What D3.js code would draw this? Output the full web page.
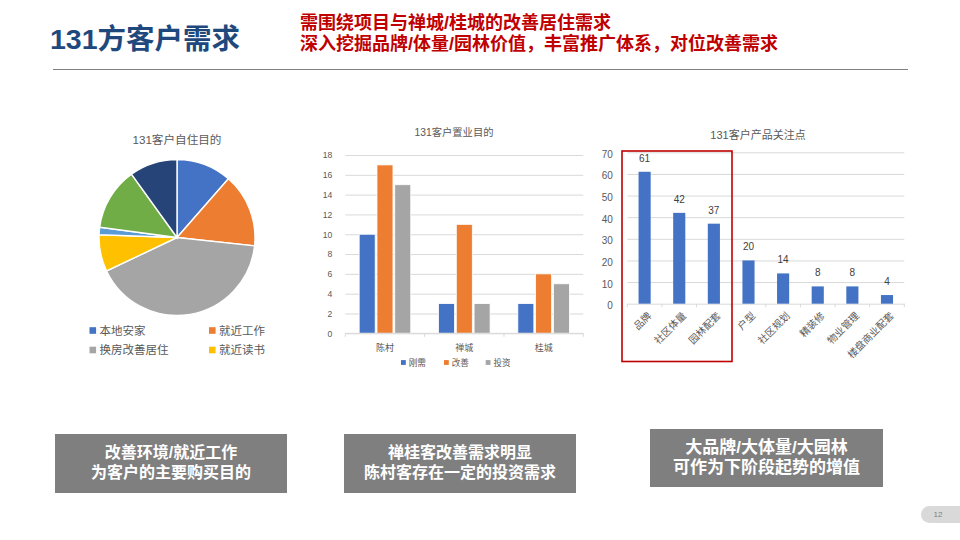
<!DOCTYPE html>
<html><head><meta charset="utf-8">
<script src="https://cdn.jsdelivr.net/npm/d3@7/dist/d3.min.js"></script>
<style>
html,body{margin:0;padding:0;background:#fff}
svg{display:block}
text{font-family:"Liberation Sans","Noto Sans CJK SC",sans-serif}
</style></head><body><svg id="c" width="960" height="540"></svg>
<script>
// --- Data ---
const pageTitle = "131方客户需求";
const headline = ["需围绕项目与禅城/桂城的改善居住需求", "深入挖掘品牌/体量/园林价值，丰富推广体系，对位改善需求"];

const pieTitle = "131客户自住目的";
const pieCategories = ["本地安家","就近工作","换房改善居住","就近读书","其他一","其他二","其他三"];
const pieValues = [15,20,54,10,2,17,13];
const pieColors = ["#4472C4","#ED7D31","#A5A5A5","#FFC000","#5B9BD5","#70AD47","#264478"];
const pieLegendCount = 4;

const groupTitle = "131客户置业目的";
const groupCategories = ["陈村","禅城","桂城"];
const groupSeries = ["刚需","改善","投资"];
const groupNeed = [10,3,3];
const groupImprove = [17,11,6];
const groupInvest = [15,3,5];
const groupColors = ["#4472C4","#ED7D31","#A5A5A5"];
const groupTicks = [0,2,4,6,8,10,12,14,16,18];

const focusTitle = "131客户产品关注点";
const focusCategories = ["品牌","社区体量","园林配套","户型","社区规划","精装修","物业管理","楼盘商业配套"];
const focusValues = [61,42,37,20,14,8,8,4];
const focusTicks = [0,10,20,30,40,50,60,70];

const captions = [
  ["改善环境/就近工作","为客户的主要购买目的"],
  ["禅桂客改善需求明显","陈村客存在一定的投资需求"],
  ["大品牌/大体量/大园林","可作为下阶段起势的增值"]
];
const pageNumber = "12";

// --- Drawing ---
const svg = d3.select("#c");
const textCol = "#595959", gridCol = "#D9D9D9";

svg.append("text").attr("x",50).attr("y",49).attr("font-size",28.5).attr("font-weight",700)
  .attr("fill","#1F497D").text(pageTitle);
svg.selectAll(".hl").data(headline).join("text").attr("class","hl")
  .attr("x",300).attr("y",(d,i)=>28.5+i*21.5).attr("font-size",18).attr("font-weight",700)
  .attr("fill","#C00000").text(d=>d);
svg.append("line").attr("x1",53).attr("x2",908).attr("y1",69.5).attr("y2",69.5)
  .attr("stroke","#808080").attr("stroke-width",1);

function title(x,y,size,t){
  svg.append("text").attr("x",x).attr("y",y).attr("text-anchor","middle")
    .attr("dominant-baseline","central").attr("font-size",size).attr("fill",textCol).text(t);
}

// Pie
title(177,139,11.6,pieTitle);
const pieG = svg.append("g").attr("transform","translate(177,237.5)");
const arcs = d3.pie().sort(null)(pieValues);
pieG.selectAll("path").data(arcs).join("path")
  .attr("d",d3.arc().innerRadius(0).outerRadius(78))
  .attr("fill",(d,i)=>pieColors[i]).attr("stroke","#fff").attr("stroke-width",1.4);
const pieLegX = d3.scaleOrdinal().domain([0,1]).range([89.5,209]);
const pieLegY = d3.scaleOrdinal().domain([0,1]).range([330.5,350]);
const pieLeg = svg.selectAll(".pl").data(pieCategories.slice(0,pieLegendCount)).join("g").attr("class","pl")
  .attr("transform",(d,i)=>`translate(${pieLegX(i%2)},${pieLegY(Math.floor(i/2))})`);
pieLeg.append("rect").attr("y",-3.3).attr("width",6.6).attr("height",6.6).attr("fill",(d,i)=>pieColors[i]);
pieLeg.append("text").attr("x",10).attr("dominant-baseline","central").attr("font-size",11.5)
  .attr("fill",textCol).text(d=>d);

function styleAxis(g){
  g.select(".domain").remove();
  g.selectAll("text").attr("fill",textCol);
}

// Grouped bars
title(454,132,10.3,groupTitle);
const gx0 = d3.scaleBand().domain(groupCategories).range([345.3,583.3]);
const gx1 = d3.scaleBand().domain(groupSeries).range([0,gx0.bandwidth()]).paddingInner(0.1).paddingOuter(0.78);
const gy = d3.scaleLinear().domain([0,18]).range([333.3,155]);
svg.append("g").attr("transform","translate(345.3,0)")
  .call(d3.axisLeft(gy).tickValues(groupTicks).tickSize(-238).tickPadding(13))
  .call(styleAxis)
  .call(g=>g.selectAll("line").attr("stroke",gridCol))
  .call(g=>g.selectAll("text").attr("font-size",8.6));
const groupData = [groupNeed,groupImprove,groupInvest];
groupData.forEach((vals,s)=>{
  svg.selectAll(".gb"+s).data(vals).join("rect").attr("class","gb"+s)
    .attr("x",(d,i)=>gx0(groupCategories[i])+gx1(groupSeries[s]))
    .attr("width",gx1.bandwidth()).attr("y",d=>gy(d)).attr("height",d=>gy(0)-gy(d))
    .attr("fill",groupColors[s]).attr("stroke","#fff").attr("stroke-width",0.8);
});
svg.append("line").attr("x1",gx0.range()[0]).attr("x2",gx0.range()[1]).attr("y1",gy(0)).attr("y2",gy(0)).attr("stroke",gridCol);
svg.selectAll(".gt").data(groupCategories.concat("end")).join("line").attr("class","gt")
  .attr("x1",d=>d==="end"?gx0.range()[1]:gx0(d)).attr("x2",d=>d==="end"?gx0.range()[1]:gx0(d))
  .attr("y1",gy(0)).attr("y2",gy(0)+3.5).attr("stroke",gridCol);
svg.selectAll(".gl").data(groupCategories).join("text").attr("class","gl")
  .attr("x",d=>gx0(d)+gx0.bandwidth()/2).attr("y",347.5).attr("text-anchor","middle")
  .attr("dominant-baseline","central").attr("font-size",9).attr("fill",textCol).text(d=>d);
const gLegX = d3.scaleOrdinal().domain(groupSeries).range([401,444,485.7]);
const gLeg = svg.selectAll(".gleg").data(groupSeries).join("g").attr("class","gleg")
  .attr("transform",d=>`translate(${gLegX(d)},362.5)`);
gLeg.append("rect").attr("y",-2.4).attr("width",4.8).attr("height",4.8).attr("fill",(d,i)=>groupColors[i]);
gLeg.append("text").attr("x",7.7).attr("dominant-baseline","central").attr("font-size",8.6).attr("fill",textCol).text(d=>d);

// Single-series bars
title(758,134.5,11,focusTitle);
const fx = d3.scaleBand().domain(focusCategories).range([627.3,904.3]).paddingInner(0.65).paddingOuter(0.325);
const fy = d3.scaleLinear().domain([0,70]).range([303.7,152.3]);
svg.append("g").attr("transform","translate(627.3,0)")
  .call(d3.axisLeft(fy).tickValues(focusTicks).tickSize(-277).tickPadding(14.5))
  .call(styleAxis)
  .call(g=>g.selectAll("line").attr("stroke",gridCol))
  .call(g=>g.selectAll("text").attr("font-size",10).attr("dy","0.5em"));
svg.selectAll(".fb").data(focusValues).join("rect").attr("class","fb")
  .attr("x",(d,i)=>fx(focusCategories[i])).attr("width",fx.bandwidth())
  .attr("y",d=>fy(d)).attr("height",d=>fy(0)-fy(d)).attr("fill","#4472C4");
svg.selectAll(".fv").data(focusValues).join("text").attr("class","fv")
  .attr("x",(d,i)=>fx(focusCategories[i])+fx.bandwidth()/2).attr("y",d=>fy(d)-13.5)
  .attr("text-anchor","middle").attr("dominant-baseline","central").attr("font-size",10)
  .attr("fill","#404040").text(d=>d);
const step = fx.step();
svg.selectAll(".ft").data(d3.range(focusCategories.length+1)).join("line").attr("class","ft")
  .attr("x1",d=>fx.range()[0]+d*step).attr("x2",d=>fx.range()[0]+d*step)
  .attr("y1",fy(0)).attr("y2",fy(0)+3.5).attr("stroke",gridCol);
svg.selectAll(".fl").data(focusCategories).join("text").attr("class","fl")
  .attr("text-anchor","end").attr("font-size",10).attr("fill",textCol)
  .attr("transform",d=>`translate(${fx(d)+fx.bandwidth()/2+5},314) rotate(-45)`)
  .attr("dominant-baseline","central").text(d=>d);
svg.append("rect").attr("x",622).attr("y",151).attr("width",110).attr("height",210.5)
  .attr("fill","none").attr("stroke","#C00000").attr("stroke-width",1.6);

// Captions
const boxes = [{x:55,y:434,w:232,h:59,s:16,l:[452,472]},{x:344,y:434,w:232,h:59,s:16,l:[452,472]},{x:650,y:429,w:233,h:58,s:17,l:[447,467.5]}];
boxes.forEach((b,i)=>{
  svg.append("rect").attr("x",b.x).attr("y",b.y).attr("width",b.w).attr("height",b.h).attr("fill","#7F7F7F");
  captions[i].forEach((t,j)=>svg.append("text").attr("x",b.x+b.w/2).attr("y",b.l[j])
    .attr("text-anchor","middle").attr("dominant-baseline","central").attr("font-size",b.s)
    .attr("font-weight",700).attr("fill","#fff").text(t));
});

// Page number
svg.append("rect").attr("x",921).attr("y",506).attr("width",60).attr("height",17).attr("rx",8.5).attr("fill","#D9D9D9");
svg.append("text").attr("x",938).attr("y",514.5).attr("text-anchor","middle").attr("dominant-baseline","central")
  .attr("font-size",8).attr("fill","#7F7F7F").text(pageNumber);
</script></body></html>
